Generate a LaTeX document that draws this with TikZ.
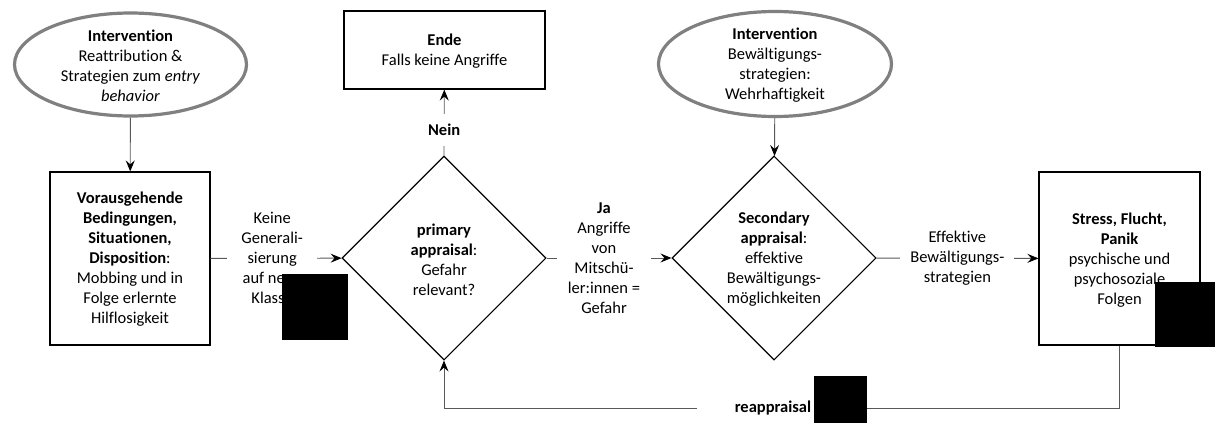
\documentclass[tikz,border=0pt]{standalone}
\usepackage{fontspec}
\setmainfont[Ligatures={NoCommon,NoRare,NoContextual}]{Carlito}
\usetikzlibrary{shapes.geometric,arrows.meta}
\definecolor{ovalgray}{RGB}{128,128,128}
\definecolor{linegray}{RGB}{89,89,89}
\begin{document}
\begin{tikzpicture}[x=1pt,y=-1pt,
  every node/.style={font=\fontsize{16.5}{20}\selectfont},
  txt/.style={align=center,inner sep=0pt},
  plainbox/.style={rectangle,draw=black,line width=1.2pt,inner sep=0pt},
  oval/.style={ellipse,draw=ovalgray,line width=3.2pt,fill=white,inner sep=0pt},
  decision/.style={diamond,draw=black,line width=1.1pt,inner sep=0pt,
    minimum width=204pt,minimum height=204pt},
  flow/.style={draw=linegray,line width=0.9pt,
    -{Stealth[length=11pt,width=9pt,inset=4pt,black]}},
  gaplabel/.style={fill=white,align=center,inner xsep=12pt,inner ysep=3pt}]

\useasboundingbox (0,0) rectangle (1215,423);

% interventions
\node[oval,minimum width=232pt,minimum height=103pt] (ia) at (130.5,64.5) {};
\node[txt] (ia-text) at (130.5,65.5)
  {\textbf{Intervention}\\Reattribution \&\\Strategien zum \textit{entry}\\\textit{behavior}};
\node[oval,minimum width=233pt,minimum height=105pt] (ib) at (775,64) {};
\node[txt] (ib-text) at (775,65.5)
  {\textbf{Intervention}\\Bewältigungs-\\strategien:\\Wehrhaftigkeit};

% boxes
\node[plainbox,minimum width=160pt,minimum height=173pt] (pre) at (130,258.5) {};
\node[txt] (pre-text) at (130,259.5)
  {\textbf{Vorausgehende}\\\textbf{Bedingungen,}\\\textbf{Situationen,}\\\textbf{Disposition}:\\Mobbing und in\\Folge erlernte\\Hilflosigkeit};
\node[plainbox,minimum width=201pt,minimum height=78pt] (ende) at (444.5,50) {};
\node[txt] (ende-text) at (444.5,51.5) {\textbf{Ende}\\Falls keine Angriffe};
\node[plainbox,minimum width=161pt,minimum height=173pt] (stress) at (1119.5,258.5) {};
\node[txt] (stress-text) at (1119.5,260)
  {\textbf{Stress, Flucht,}\\\textbf{Panik}\\psychische und\\psychosoziale\\Folgen};

% decisions
\node[decision] (pa) at (444,258) {};
\node[txt] (pa-text) at (444,260)
  {\textbf{primary}\\\textbf{appraisal}:\\Gefahr\\relevant?};
\node[decision] (sa) at (774,258) {};
\node[txt] (sa-text) at (774,259)
  {\textbf{Secondary}\\\textbf{appraisal}:\\effektive\\Bewältigungs-\\möglichkeiten};

% connectors
\draw[flow] (ia) -- (pre);
\draw[flow] (ib) -- (sa);
\draw[flow] (pre) -- node[gaplabel,pos=0.47,inner xsep=14pt]
  {Keine\\Generali-\\sierung\\auf neue\\Klasse} (pa);
\draw[flow] (pa.north) -- node[gaplabel,pos=0.39,inner xsep=4pt,inner ysep=10pt]
  {\textbf{Nein}} (ende);
\draw[flow] (pa) -- node[gaplabel,pos=0.46,inner xsep=11pt]
  {\textbf{Ja}\\Angriffe\\von\\Mitschü-\\ler:innen =\\Gefahr} (sa);
\draw[flow] (sa) -- node[gaplabel,pos=0.5,inner xsep=10pt]
  {Effektive\\Bewältigungs-\\strategien} (stress);
\coordinate (fb) at (1119.5,408);
\draw[flow] (stress.south) -- (fb) -- node[gaplabel,pos=0.513,inner xsep=38pt,inner ysep=2pt]
  {\textbf{reappraisal}} (fb -| pa.south) -- (pa.south);

% masked areas
\fill[black] (282,274) rectangle (348,340);
\fill[black] (814,376) rectangle (867,423);
\fill[black] (1155,282) rectangle (1215,347);
\end{tikzpicture}
\end{document}
